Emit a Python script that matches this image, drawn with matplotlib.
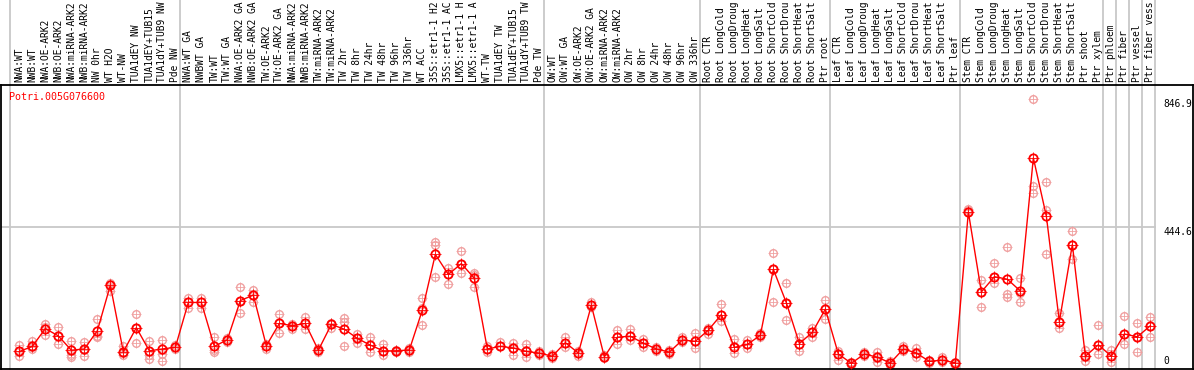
#!/usr/bin/env python3
# expression profile of one poplar gene across samples -> out.png

import matplotlib
matplotlib.use('Agg')
import matplotlib.pyplot as plt
import matplotlib.transforms as mtransforms

gene = 'Potri.005G076600'

# sample labels, as shown (cut to 14 chars)
labels = [
    'NWA:WT', 'NWB:WT', 'NWA:OE-ARK2', 'NWB:OE-ARK2', 'NWA:miRNA-ARK2',
    'NWB:miRNA-ARK2', 'NW 0hr', 'WT H2O', 'WT-NW', 'TUA1dEY NW',
    'TUA1dEY+TUB15', 'TUA1dY+TUB9 NW', 'Pde NW',
    'NWA:WT GA', 'NWBWT GA', 'TW:WT', 'TW:WT GA', 'NWA:OE-ARK2 GA',
    'NWB:OE-ARK2 GA', 'TW:OE-ARK2', 'TW:OE-ARK2 GA', 'NWA:miRNA-ARK2',
    'NWB:miRNA-ARK2', 'TW:miRNA-ARK2', 'TW:miRNA-ARK2', 'TW 2hr', 'TW 8hr',
    'TW 24hr', 'TW 48hr', 'TW 96hr', 'TW 336hr', 'WT ACC',
    '35S::etr1-1 H2', '35S::etr1-1 AC', 'LMX5::etr1-1 H', 'LMX5::etr1-1 A',
    'WT-TW', 'TUA1dEY TW', 'TUA1dEY+TUB15', 'TUA1dY+TUB9 TW', 'Pde TW',
    'OW:WT', 'OW:WT GA', 'OW:OE-ARK2', 'OW:OE-ARK2 GA', 'OW:miRNA-ARK2',
    'OW:miRNA-ARK2', 'OW 2hr', 'OW 8hr', 'OW 24hr', 'OW 48hr', 'OW 96hr',
    'OW 336hr',
    'Root CTR', 'Root LongCold', 'Root LongDroug', 'Root LongHeat',
    'Root LongSalt', 'Root ShortCold', 'Root ShortDrou', 'Root ShortHeat',
    'Root ShortSalt', 'Ptr root',
    'Leaf CTR', 'Leaf LongCold', 'Leaf LongDroug', 'Leaf LongHeat',
    'Leaf LongSalt', 'Leaf ShortCold', 'Leaf ShortDrou', 'Leaf ShortHeat',
    'Leaf ShortSalt', 'Ptr leaf',
    'Stem CTR', 'Stem LongCold', 'Stem LongDroug', 'Stem LongHeat',
    'Stem LongSalt', 'Stem ShortCold', 'Stem ShortDrou', 'Stem ShortHeat',
    'Stem ShortSalt', 'Ptr shoot', 'Ptr xylem',
    'Ptr phloem', 'Ptr fiber', 'Ptr vessel', 'Ptr fiber vess',
]

# last sample of each group (separator lines)
group_ends = [12, 40, 52, 62, 72, 83, 84, 85, 86, 87]

means = [
    55, 71, 127, 104, 59, 63, 120, 263, 54, 130, 57, 63, 68,
    209, 209, 71, 92, 215, 232, 73, 143, 136, 143, 59, 140, 125, 96,
    75, 57, 57, 60, 185, 360, 297, 331, 285, 63, 71, 66, 55, 50,
    40, 83, 50, 200, 38, 100, 103, 81, 63, 53, 91, 87,
    122, 171, 68, 77, 106, 313, 208, 80, 115, 188,
    47, 18, 47, 37, 19, 63, 50, 24, 28, 19,
    493, 242, 290, 282, 245, 663, 480, 149, 391, 40, 76,
    40, 110, 101, 136,
]

rep_a = [
    76, 89, 141, 131, 89, 85, 157, 271, 73, 174, 89, 91, 76,
    224, 224, 99, 96, 256, 247, 78, 174, 141, 162, 66, 143, 159, 110,
    99, 78, 60, 66, 222, 398, 318, 372, 303, 73, 85, 83, 78, 57,
    47, 101, 57, 210, 45, 122, 125, 95, 70, 60, 99, 112,
    130, 203, 94, 90, 112, 365, 269, 102, 128, 216,
    57, 21, 52, 52, 24, 73, 65, 28, 37, 23,
    503, 278, 332, 384, 287, 847, 587, 177, 433, 60, 137,
    60, 165, 143, 164,
]

rep_b = [
    40, 63, 106, 80, 45, 42, 104, 245, 45, 83, 31, 26, 63,
    193, 193, 52, 84, 177, 211, 63, 113, 125, 125, 52, 130, 148, 81,
    52, 44, 54, 53, 139, 391, 266, 303, 256, 52, 73, 44, 37, 44,
    35, 70, 42, 195, 33, 78, 90, 70, 55, 46, 84, 65,
    110, 150, 49, 65, 100, 212, 153, 57, 102, 156,
    29, 14, 42, 21, 14, 55, 37, 18, 23, 13,
    499, 195, 269, 235, 240, 576, 498, 130, 346, 26, 47,
    23, 80, 54, 102,
]

rep_c = [
    55, 68, 132, 104, 37, 60, 99, 268, 50, 130, 45, 46, 68,
    209, 209, 61, 92, 215, 232, 73, 143, 136, 143, 59, 140, 73, 96,
    75, 57, 57, 60, 193, 290, 297, 331, 295, 63, 71, 66, 60, 50,
    40, 83, 50, 200, 38, 100, 103, 81, 63, 53, 91, 87,
    122, 171, 68, 77, 106, 313, 208, 80, 115, 188,
    47, 18, 47, 37, 19, 63, 50, 24, 28, 19,
    493, 242, 290, 225, 209, 552, 360, 149, 391, 40, 76,
    40, 110, 101, 136,
]

axis_ticks = [0, 444.6, 846.9]


def draw():
    fig = plt.figure(figsize=(11.94, 3.70), dpi=100)
    ax = fig.add_axes([1 / 1194, 1 / 370, 1192 / 1194, 284 / 370])

    x = list(range(len(labels)))
    mono = 'DejaVu Sans Mono'
    pink = '#f0a0a0'
    grey = '#c8c8c8'

    # separator lines, running up through the label area
    for xl in [-0.72] + [e + 0.39 for e in group_ends]:
        ax.axvline(xl, ymin=0, ymax=1.31, color=grey, lw=1.3,
                   clip_on=False, zorder=1)
    ax.plot([-1.5, 87.39], [444.6, 444.6], color=grey, lw=1.3, zorder=1)

    # replicates
    for reps in (rep_a, rep_b, rep_c):
        ax.plot(x, reps, ls='none', marker='+', ms=7.5, mew=0.6,
                color=pink, zorder=2)
        ax.plot(x, reps, ls='none', marker='o', ms=5.5, mew=1.0,
                mfc='none', mec=pink, zorder=2)

    # mean line
    ax.plot(x, means, color='red', lw=1.0, zorder=3)
    ax.plot(x, means, ls='none', marker='+', ms=8, mew=0.6,
            color='red', zorder=4)
    ax.plot(x, means, ls='none', marker='o', ms=6, mew=1.3,
            mfc='none', mec='red', zorder=4)

    ax.set_xlim(-1.41, 90.28)
    ax.set_ylim(0, 892)
    ax.set_xticks([])
    ax.set_yticks([])
    for s in ax.spines.values():
        s.set_linewidth(1.3)
        s.set_color('black')

    # sample labels above the frame
    trans = mtransforms.blended_transform_factory(ax.transData, ax.transAxes)
    for i, lab in enumerate(labels):
        ax.text(i, 1.011, lab, transform=trans, rotation=90, ha='center',
                va='bottom', family=mono, fontsize=6.9, color='black',
                clip_on=False)

    # right side scale labels
    ax.text(88.0, axis_ticks[2], '846.9', ha='left', va='top',
            family=mono, fontsize=6.9)
    ax.text(88.0, axis_ticks[1], '444.6', ha='left', va='top',
            family=mono, fontsize=6.9)
    ax.text(88.0, 9, '0', ha='left', va='bottom', family=mono, fontsize=6.9)

    ax.text(0.0067, 0.975, gene, transform=ax.transAxes, ha='left',
            va='top', family=mono, fontsize=7.2, color='red')

    print('Writing plot to out.png')
    fig.savefig('out.png', dpi=100)
    plt.close(fig)


def main():
    draw()


if __name__ == '__main__':
    main()
